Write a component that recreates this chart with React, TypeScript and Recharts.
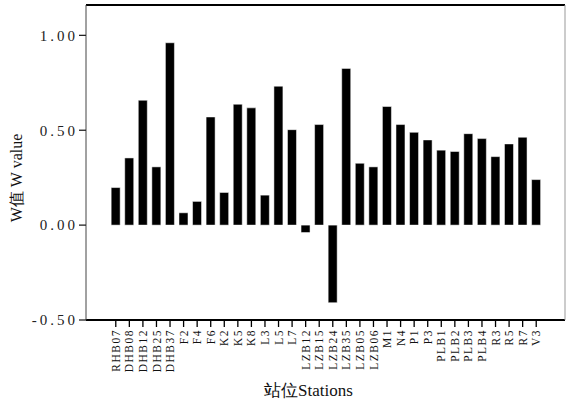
import React from 'react';
import { BarChart, Bar, XAxis, YAxis } from 'recharts';

const stations = ['RHB07','DHB08','DHB12','DHB25','DHB37','F2','F4','F6','K2','K5','K8','L3','L5','L7','LZB12','LZB15','LZB24','LZB35','LZB05','LZB06','M1','N4','P1','P3','PLB1','PLB2','PLB3','PLB4','R3','R5','R7','V3'];
const wValues = [0.198,0.354,0.658,0.307,0.961,0.065,0.125,0.570,0.172,0.637,0.618,0.158,0.732,0.503,-0.039,0.530,-0.409,0.826,0.326,0.307,0.625,0.530,0.489,0.449,0.395,0.388,0.482,0.456,0.361,0.428,0.463,0.240];
const yTicks = [-0.5, 0, 0.5, 1.0];
const yDomain = [-0.5, 1.16];

const data = stations.map((s, i) => ({ station: s, w: wValues[i] }));

const FONT = '"Liberation Serif", "Times New Roman", serif';

const XTick = (props: any) => {
  const { x, y, payload } = props;
  return (
    <g transform={`translate(${x},${y})`}>
      <text x={0} y={0} dy="0.35em" transform="rotate(-90)" textAnchor="end"
        fontFamily={FONT} fontSize={11.5} letterSpacing={1.5} fill="#111">
        {payload.value}
      </text>
    </g>
  );
};

const YLabel = () => (
  <text x={16} y={178} transform="rotate(-90, 16, 178)" textAnchor="middle" dominantBaseline="central"
    fontFamily={FONT} fontSize={16} fill="#111">
    W值 W value
  </text>
);

export default function App() {
  return (
    <div style={{ position: 'absolute', left: 0, top: 0, background: '#fff' }}>
      <BarChart width={566} height={406} data={data}
        margin={{ top: 4, right: 0, bottom: 0, left: 0 }} barCategoryGap="16%">
        <XAxis dataKey="station" height={86} padding={{ left: 23, right: 22 }}
          interval={0} tick={<XTick />} tickSize={7} tickMargin={2}
          axisLine={{ stroke: '#000', strokeWidth: 2 }} tickLine={{ stroke: '#000', strokeWidth: 1.3 }}
          label={{ value: '站位Stations', position: 'insideBottom', offset: 10, dx: -17,
            style: { fontFamily: FONT, fontSize: 17, fill: '#111' } }} />
        <XAxis xAxisId="top" dataKey="station" orientation="top" height={1} tick={false} tickLine={false}
          axisLine={{ stroke: '#000', strokeWidth: 2 }} />
        <YAxis width={86} domain={yDomain} ticks={yTicks} allowDataOverflow
          tickFormatter={(v: number) => v.toFixed(2)} tickSize={7} tickMargin={1}
          tick={{ fontFamily: FONT, fontSize: 15, fill: '#222', letterSpacing: 3 }}
          axisLine={{ stroke: '#444', strokeWidth: 1 }} tickLine={{ stroke: '#222', strokeWidth: 1.3 }}
          label={<YLabel />} />
        <YAxis yAxisId="right" orientation="right" width={1} tick={false} tickLine={false}
          axisLine={{ stroke: '#999', strokeWidth: 1 }} />
        <Bar dataKey="w" fill="#000" stroke="#fff" strokeWidth={0.5} isAnimationActive={false} />
      </BarChart>
    </div>
  );
}
